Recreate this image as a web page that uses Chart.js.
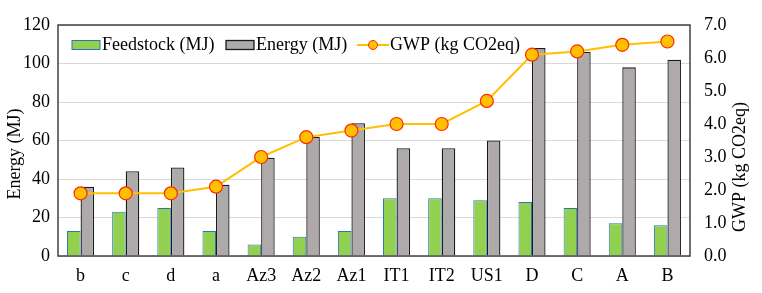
<!DOCTYPE html>
<html>
<head>
<meta charset="utf-8">
<script src="https://cdn.jsdelivr.net/npm/chart.js@4.4.1/dist/chart.umd.min.js"></script>
<style>
  html, body { margin: 0; padding: 0; background: #fff; }
  #wrap { width: 762px; height: 293px; }
</style>
</head>
<body>
<div id="wrap"><canvas id="lcaChart"></canvas></div>
<script>
// data
var categories = ['b', 'c', 'd', 'a', 'Az3', 'Az2', 'Az1', 'IT1', 'IT2', 'US1', 'D', 'C', 'A', 'B'];
var feedstock = [13, 23, 25, 13, 6, 10, 13, 30, 30, 29, 28, 25, 17, 16];
var energy = [36, 44, 46, 37, 51, 62, 69, 56, 56, 60, 108, 106, 98, 102];
var gwp = [1.9, 1.9, 1.9, 2.1, 3.0, 3.6, 3.8, 4.0, 4.0, 4.7, 6.1, 6.2, 6.4, 6.5];

var serif = "'Liberation Serif', 'Times New Roman', serif";
var fontSize = 18;

// frame, legend inside the plot, and axis titles
var decorations = {
    id: 'decorations',
    afterDraw: function (chart) {
        var ctx = chart.ctx;
        var area = chart.chartArea;
        ctx.save();

        // plot frame
        ctx.strokeStyle = '#404040';
        ctx.lineWidth = 1.5;
        ctx.strokeRect(area.left, area.top, area.right - area.left, area.bottom - area.top);

        // legend
        ctx.font = fontSize + 'px ' + serif;
        ctx.textBaseline = 'middle';
        ctx.textAlign = 'left';
        ctx.fillStyle = '#000';
        var ly = 45;
        var ds = chart.data.datasets;

        ctx.fillStyle = ds[0].backgroundColor;
        ctx.fillRect(72, ly - 4.5, 28, 9);
        ctx.strokeStyle = ds[0].borderColor;
        ctx.lineWidth = 1;
        ctx.strokeRect(72, ly - 4.5, 28, 9);
        ctx.fillStyle = '#000';
        ctx.fillText(ds[0].label, 102, ly);

        ctx.fillStyle = ds[1].backgroundColor;
        ctx.fillRect(226, ly - 4.5, 28, 9);
        ctx.strokeStyle = ds[1].borderColor;
        ctx.lineWidth = 1.3;
        ctx.strokeRect(226, ly - 4.5, 28, 9);
        ctx.fillStyle = '#000';
        ctx.fillText(ds[1].label, 256, ly);

        ctx.strokeStyle = ds[2].borderColor;
        ctx.lineWidth = 2;
        ctx.beginPath();
        ctx.moveTo(357, ly);
        ctx.lineTo(389, ly);
        ctx.stroke();
        ctx.beginPath();
        ctx.arc(373, ly, 4.5, 0, Math.PI * 2);
        ctx.fillStyle = ds[2].pointBackgroundColor;
        ctx.fill();
        ctx.strokeStyle = ds[2].pointBorderColor;
        ctx.lineWidth = 1;
        ctx.stroke();
        ctx.fillStyle = '#000';
        ctx.fillText(ds[2].label, 390, ly);

        // axis titles
        ctx.textAlign = 'center';
        ctx.font = '18px ' + serif;
        ctx.save();
        ctx.translate(15, 154);
        ctx.rotate(-Math.PI / 2);
        ctx.fillText('Energy (MJ)', 0, 0);
        ctx.restore();

        ctx.save();
        ctx.translate(740, 167);
        ctx.rotate(-Math.PI / 2);
        ctx.fillText('GWP (kg CO2eq)', 0, 0);
        ctx.restore();

        ctx.restore();
    }
};

var ctx = document.getElementById('lcaChart');

var lcaChart = new Chart(ctx, {
    type: 'bar',
    data: {
        labels: categories,
        datasets: [
            {
                label: 'Feedstock (MJ)',
                data: feedstock,
                backgroundColor: '#92D050',
                borderColor: '#2E75B6',
                borderWidth: 1,
                yAxisID: 'y',
                order: 2
            },
            {
                label: 'Energy (MJ)',
                data: energy,
                backgroundColor: '#AEAAAA',
                borderColor: '#1a1a1a',
                borderWidth: 1.3,
                yAxisID: 'y',
                order: 2
            },
            {
                type: 'line',
                label: 'GWP (kg CO2eq)',
                data: gwp,
                borderColor: '#FFC000',
                borderWidth: 2,
                pointRadius: 6.5,
                pointBackgroundColor: '#FFC000',
                pointBorderColor: '#FF2a00',
                pointBorderWidth: 1.2,
                tension: 0,
                yAxisID: 'y1',
                order: 1
            }
        ]
    },
    options: {
        responsive: true,
        maintainAspectRatio: false,
        animation: false,
        layout: { padding: { top: 25, left: 0, right: 0, bottom: 0 } },
        plugins: {
            legend: { display: false },
            tooltip: { enabled: false }
        },
        datasets: {
            bar: { categoryPercentage: 0.6, barPercentage: 1.0 }
        },
        scales: {
            x: {
                grid: { display: false, drawTicks: false },
                border: { display: false },
                afterFit: function (scale) { scale.height = 37; },
                ticks: { color: '#000', padding: 9, font: { family: serif, size: fontSize } }
            },
            y: {
                position: 'left',
                min: 0,
                max: 120,
                afterFit: function (scale) { scale.width = 58; },
                grid: { color: '#d9d9d9', lineWidth: 1, drawTicks: false },
                border: { display: false },
                ticks: { stepSize: 20, color: '#000', padding: 8, font: { family: serif, size: fontSize } }
            },
            y1: {
                position: 'right',
                min: 0,
                max: 7,
                afterFit: function (scale) { scale.width = 72; },
                grid: { display: false, drawTicks: false },
                border: { display: false },
                ticks: {
                    stepSize: 1,
                    color: '#000',
                    padding: 14,
                    font: { family: serif, size: fontSize },
                    callback: function (v) { return v.toFixed(1); }
                }
            }
        }
    },
    plugins: [decorations]
});
</script>
</body>
</html>
